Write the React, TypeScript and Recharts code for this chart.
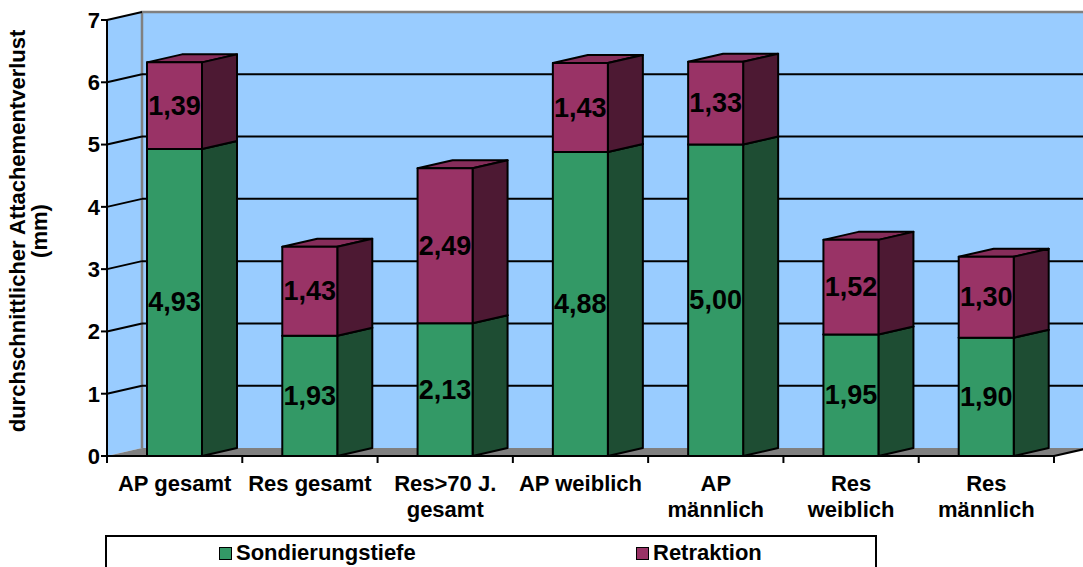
import { BarChart, Bar, XAxis, YAxis, CartesianGrid, ReferenceArea, LabelList, Legend } from 'recharts';

const categories = ['AP gesamt', 'Res gesamt', 'Res>70 J.\ngesamt', 'AP weiblich', 'AP\nmännlich', 'Res\nweiblich', 'Res\nmännlich'];
const sondierungstiefe = [4.93, 1.93, 2.13, 4.88, 5.0, 1.95, 1.9];
const retraktion = [1.39, 1.43, 2.49, 1.43, 1.33, 1.52, 1.3];
const yTicks = [0, 1, 2, 3, 4, 5, 6, 7];
const seriesNames = ['Sondierungstiefe', 'Retraktion'];

const data = categories.map((name, i) => ({
    name,
    sondierungstiefe: sondierungstiefe[i],
    retraktion: retraktion[i],
}));

// depth offset of the pseudo 3D walls and boxes
const DX = 35;
const DY = -8;
const WALL = '#99ccff';
const FLOOR = '#808080';
const FONT = 'Arial, "Liberation Sans", Helvetica, sans-serif';

const fmt = (v: number) => v.toFixed(2).replace('.', ',');

function Box3D(props: any) {
    const { x, y, width, height, front, side, top } = props;
    const r = x + width;
    const b = y + height;
    return (
        <g stroke="#000" strokeWidth={2} strokeLinejoin="round">
            <polygon points={`${x},${y} ${x + DX},${y + DY} ${r + DX},${y + DY} ${r},${y}`} fill={top} />
            <polygon points={`${r},${y} ${r + DX},${y + DY} ${r + DX},${b + DY} ${r},${b}`} fill={side} />
            <rect x={x} y={y} width={width} height={height} fill={front} />
        </g>
    );
}

function Walls(props: any) {
    const { x, y, width, height } = props;
    const b = y + height;
    return (
        <g>
            <polygon points={`${x},${b} ${x},${y} ${x + DX},${y + DY} ${x + DX},${b + DY}`} fill={WALL} />
            <rect x={x + DX} y={y + DY} width={width + 10} height={height} fill={WALL} />
            <polyline
                points={`${x + DX},${b + DY} ${x + DX},${y + DY} ${x + width + DX + 10},${y + DY}`}
                fill="none"
                stroke="#808080"
                strokeWidth={2.5}
            />
            <polygon points={`${x},${b} ${x + width},${b} ${x + width + DX},${b + DY} ${x + DX},${b + DY}`} fill={FLOOR} />
            <line x1={x + width} y1={b} x2={x + width + DX} y2={b + DY} stroke="#000" strokeWidth={2} />
        </g>
    );
}

function GridLine(props: any) {
    const { x1, y1, x2, y, height } = props;
    if (Math.abs(y1 - (y + height)) < 1) return <g />;
    const isTop = Math.abs(y1 - y) < 1;
    return (
        <g stroke="#000" strokeWidth={2}>
            <line x1={x1} y1={y1} x2={x1 + DX} y2={y1 + DY} />
            {!isTop && <line x1={x1 + DX} y1={y1 + DY} x2={x2 + DX + 10} y2={y1 + DY} />}
        </g>
    );
}

function XTick(props: any) {
    const { x, y, payload, index } = props;
    const half = payload.offset ?? 0;
    const lines = String(payload.value).split('\n');
    return (
        <g>
            <line x1={x - half} y1={y} x2={x - half} y2={y + 7} stroke="#000" strokeWidth={2} />
            {index === categories.length - 1 && (
                <line x1={x + half} y1={y} x2={x + half} y2={y + 7} stroke="#000" strokeWidth={2} />
            )}
            {lines.map((t, i) => (
                <text key={i} x={x} y={y + 35 + i * 26} textAnchor="middle" fontSize={22} fontWeight="bold" fill="#000">
                    {t}
                </text>
            ))}
        </g>
    );
}

function AxisTitle() {
    return (
        <g fontSize={22} fontWeight="bold" fill="#000" textAnchor="middle">
            <text transform="translate(25,231) rotate(-90)">durchschnittlicher Attachementverlust</text>
            <text transform="translate(47,231) rotate(-90)">(mm)</text>
        </g>
    );
}

function ValueLabel(props: any) {
    const { x, y, width, height, value } = props;
    return (
        <text
            x={x + width / 2}
            y={y + height / 2}
            dy={9}
            textAnchor="middle"
            fontSize={27}
            fontWeight="bold"
            fill="#000"
        >
            {fmt(value)}
        </text>
    );
}

function LegendBox(props: any) {
    const { payload = [] } = props;
    const items = seriesNames.map((n) => payload.find((p: any) => p.value === n)).filter(Boolean);
    const lefts = [112, 529];
    return (
        <div style={{ position: 'relative', width: 772, height: 44, border: '2px solid #000', boxSizing: 'border-box', background: '#fff' }}>
            {items.map((p: any, i: number) => (
                <div key={p.value} style={{ position: 'absolute', left: lefts[i], top: 3, display: 'flex', alignItems: 'center', fontSize: 22, fontWeight: 'bold', color: '#000' }}>
                    <span style={{ width: 11, height: 11, background: p.color, border: '1.5px solid #000', marginRight: 4, display: 'inline-block' }} />
                    {p.value}
                </div>
            ))}
        </div>
    );
}

export default function App() {
    return (
        <div style={{ position: 'absolute', left: 0, top: 0, width: 1083, height: 567, overflow: 'hidden', background: '#fff', fontFamily: FONT }}>
            <BarChart
                width={1083}
                height={567}
                data={data}
                margin={{ top: 20, right: 29, bottom: 51, left: 47 }}
                barSize={55}
            >
                <ReferenceArea y1={0} y2={7} shape={Walls} zIndex={-150} ifOverflow="visible" />
                <CartesianGrid vertical={false} horizontal={GridLine} zIndex={-100} />
                <XAxis
                    dataKey="name"
                    height={60}
                    interval={0}
                    tickLine={false}
                    tickSize={0}
                    tickMargin={0}
                    axisLine={{ stroke: '#000', strokeWidth: 2 }}
                    tick={<XTick />}
                />
                <YAxis
                    width={60}
                    domain={[0, 7]}
                    ticks={yTicks}
                    interval={0}
                    tickSize={6}
                    tickMargin={1}
                    axisLine={{ stroke: '#000', strokeWidth: 2 }}
                    tickLine={{ stroke: '#000', strokeWidth: 2 }}
                    tick={{ fill: '#000', fontSize: 22, fontWeight: 'bold' }}
                    label={<AxisTitle />}
                />
                <Legend
                    layout="horizontal"
                    verticalAlign="middle"
                    align="center"
                    content={<LegendBox />}
                    wrapperStyle={{ left: 105, top: 535, width: 772 }}
                />
                <Bar
                    dataKey="sondierungstiefe"
                    name="Sondierungstiefe"
                    stackId="a"
                    fill="#339966"
                    isAnimationActive={false}
                    shape={(p: any) => <Box3D {...p} front="#339966" side="#1e4d33" top="#2a7f55" />}
                >
                    <LabelList dataKey="sondierungstiefe" content={<ValueLabel />} />
                </Bar>
                <Bar
                    dataKey="retraktion"
                    name="Retraktion"
                    stackId="a"
                    fill="#993366"
                    isAnimationActive={false}
                    shape={(p: any) => <Box3D {...p} front="#993366" side="#4d1933" top="#862d5a" />}
                >
                    <LabelList dataKey="retraktion" content={<ValueLabel />} />
                </Bar>
            </BarChart>
        </div>
    );
}
